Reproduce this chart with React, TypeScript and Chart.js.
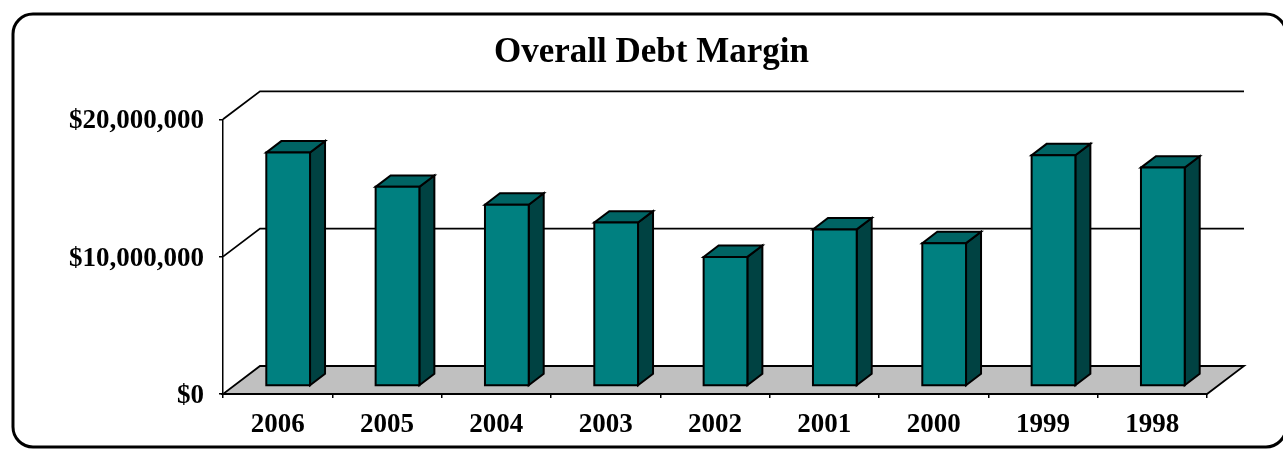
import React, { useEffect, useRef } from 'react';
import { Chart, registerables } from 'chart.js';

Chart.register(...registerables);

const categories = ['2006', '2005', '2004', '2003', '2002', '2001', '2000', '1999', '1998'];
const debtMargin = [17000000, 14500000, 13200000, 11900000, 9400000, 11400000, 10400000, 16800000, 15900000];
const yTickValues = [0, 10000000, 20000000];
const chartTitle = 'Overall Debt Margin';

const FONT = "'Liberation Serif', 'Times New Roman', serif";
const DEPTH_X = 37;
const DEPTH_Y = -28;
const BAR_SHIFT_X = 10.5;
const BAR_SHIFT_Y = -8;
const BAR_DEPTH_X = 15;
const BAR_DEPTH_Y = -11.4;
const FRONT = '#008080';
const TOP = '#006464';
const SIDE = '#004242';

const threeD = {
  id: 'threeD',
  beforeDatasetsDraw(chart: any) {
    const { ctx, chartArea, scales } = chart;
    const xL = chartArea.left;
    const xR = chartArea.right;
    const ys = scales.y;
    ctx.save();
    ctx.strokeStyle = '#000';
    ctx.lineWidth = 1.8;
    for (const v of yTickValues) {
      if (v === 0) continue;
      const py = ys.getPixelForValue(v);
      ctx.beginPath();
      ctx.moveTo(xL, py);
      ctx.lineTo(xL + DEPTH_X, py + DEPTH_Y);
      ctx.lineTo(xR + DEPTH_X, py + DEPTH_Y);
      ctx.stroke();
    }
    const y0 = ys.getPixelForValue(0);
    ctx.beginPath();
    ctx.moveTo(xL, y0);
    ctx.lineTo(xR, y0);
    ctx.lineTo(xR + DEPTH_X, y0 + DEPTH_Y);
    ctx.lineTo(xL + DEPTH_X, y0 + DEPTH_Y);
    ctx.closePath();
    ctx.fillStyle = '#C0C0C0';
    ctx.fill();
    ctx.stroke();
    ctx.restore();
  },
  afterDatasetsDraw(chart: any) {
    const { ctx } = chart;
    const meta = chart.getDatasetMeta(0);
    ctx.save();
    ctx.strokeStyle = '#000';
    ctx.lineWidth = 2;
    ctx.lineJoin = 'miter';
    meta.data.forEach((el: any) => {
      const { x, y, base, width } = el.getProps(['x', 'y', 'base', 'width'], true);
      const l = x - width / 2 + BAR_SHIFT_X;
      const r = x + width / 2 + BAR_SHIFT_X;
      const t = y + BAR_SHIFT_Y;
      const b = base + BAR_SHIFT_Y;
      // side
      ctx.beginPath();
      ctx.moveTo(r, b);
      ctx.lineTo(r + BAR_DEPTH_X, b + BAR_DEPTH_Y);
      ctx.lineTo(r + BAR_DEPTH_X, t + BAR_DEPTH_Y);
      ctx.lineTo(r, t);
      ctx.closePath();
      ctx.fillStyle = SIDE;
      ctx.fill();
      ctx.stroke();
      // top
      ctx.beginPath();
      ctx.moveTo(l, t);
      ctx.lineTo(r, t);
      ctx.lineTo(r + BAR_DEPTH_X, t + BAR_DEPTH_Y);
      ctx.lineTo(l + BAR_DEPTH_X, t + BAR_DEPTH_Y);
      ctx.closePath();
      ctx.fillStyle = TOP;
      ctx.fill();
      ctx.stroke();
      // front
      ctx.beginPath();
      ctx.rect(l, t, r - l, b - t);
      ctx.fillStyle = FRONT;
      ctx.fill();
      ctx.stroke();
    });
    ctx.restore();
  },
  afterDraw(chart: any) {
    const { ctx } = chart;
    ctx.save();
    ctx.strokeStyle = '#000';
    ctx.lineWidth = 3;
    ctx.beginPath();
    ctx.roundRect(13, 14, 1273, 433, 20);
    ctx.stroke();
    ctx.restore();
  },
};

export default function App() {
  const canvasRef = useRef<HTMLCanvasElement | null>(null);

  useEffect(() => {
    if (!canvasRef.current) return;
    const chart = new Chart(canvasRef.current, {
      type: 'bar',
      data: {
        labels: categories,
        datasets: [
          {
            label: chartTitle,
            data: debtMargin,
            backgroundColor: 'rgba(0,0,0,0)',
            borderWidth: 0,
            categoryPercentage: 1,
            barPercentage: 0.4,
          },
        ],
      },
      options: {
        responsive: false,
        animation: false,
        devicePixelRatio: 1,
        layout: { padding: { left: 20, right: 0, top: 0, bottom: 0 } },
        plugins: {
          legend: { display: false },
          tooltip: { enabled: false },
          title: {
            display: true,
            text: chartTitle,
            color: '#000',
            font: { family: FONT, size: 35, weight: 'bold' },
            padding: { top: 32, bottom: 45.3 },
          },
        },
        scales: {
          x: {
            afterFit: (axis: any) => {
              axis.height = 55;
            },
            grid: {
              offset: true,
              drawOnChartArea: false,
              drawTicks: true,
              tickLength: 4,
              color: '#000',
              lineWidth: 1.5,
            },
            border: { display: true, color: '#000', width: 1.8 },
            ticks: {
              color: '#000',
              padding: 10.5,
              maxRotation: 0,
              font: { family: FONT, size: 27, weight: 'bold' },
            },
          },
          y: {
            min: 0,
            max: 20000000,
            afterFit: (axis: any) => {
              axis.width = 203;
            },
            grid: {
              drawOnChartArea: false,
              drawTicks: true,
              tickLength: 4,
              color: '#000',
              lineWidth: 1.5,
            },
            border: { display: true, color: '#000', width: 1.5 },
            ticks: {
              stepSize: 10000000,
              color: '#000',
              padding: 15,
              labelOffset: 2,
              font: { family: FONT, size: 27, weight: 'bold' },
              callback: (v: any) => '$' + Number(v).toLocaleString('en-US'),
            },
          },
          depthSpace: {
            type: 'linear',
            position: 'right',
            display: true,
            afterFit: (axis: any) => {
              axis.width = 76;
            },
            grid: { display: false },
            border: { display: false },
            ticks: { display: false },
          },
        },
      },
      plugins: [threeD],
    });
    return () => chart.destroy();
  }, []);

  return (
    <div style={{ position: 'fixed', left: 0, top: 0, width: 1283, height: 449, background: '#fff' }}>
      <canvas ref={canvasRef} width={1283} height={449} style={{ display: 'block' }} />
    </div>
  );
}
